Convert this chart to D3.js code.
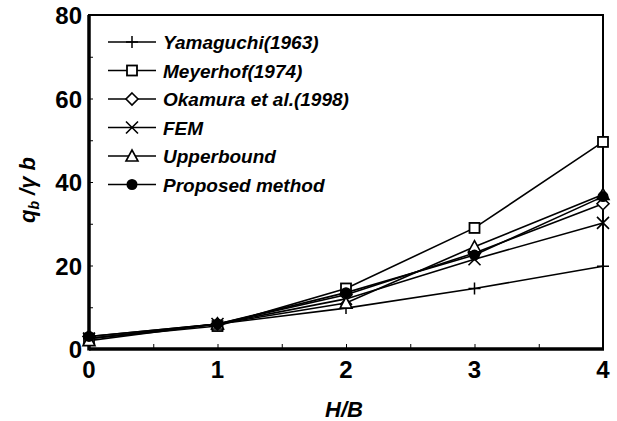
<!DOCTYPE html>
<html>
<head>
<meta charset="utf-8">
<script src="https://cdn.jsdelivr.net/npm/d3@7"></script>
<style>
  body { margin: 0; background: #fff; }
  text { font-family: "Liberation Sans", Arial, sans-serif; fill: #000; }
</style>
</head>
<body>
<svg id="chart" width="617" height="421"></svg>
<script>
// H/B values along the x axis
var hb = [0, 1, 2, 3, 4];

// q_b / gamma b for each method
var yamaguchi = [2.5, 6, 9.8, 14.5, 19.8];
var meyerhof  = [2.5, 5.5, 14.5, 29, 49.6];
var okamura   = [3, 6, 13, 23, 34.8];
var fem       = [2.5, 6, 12, 21.5, 30.2];
var upper     = [2, 6, 11, 24.5, 37];
var proposed  = [3, 6, 13.5, 22.5, 36.5];

var seriesNames = ["Yamaguchi(1963)", "Meyerhof(1974)", "Okamura et al.(1998)", "FEM", "Upperbound", "Proposed method"];
var seriesMarks = ["plus", "square", "diamond", "cross", "triangle", "circle"];
var xTicks = [0, 1, 2, 3, 4];
var yTicks = [0, 20, 40, 60, 80];

var series = [yamaguchi, meyerhof, okamura, fem, upper, proposed].map(function (vals, i) {
	return { name: seriesNames[i], mark: seriesMarks[i], vals: vals };
});

var svg = d3.select("#chart");
var pLeft = 89, pRight = 603, pTop = 15, pBottom = 349;

var x = d3.scaleLinear().domain([0, 4]).range([pLeft, pRight]);
var y = d3.scaleLinear().domain([0, 80]).range([pBottom, pTop]);

// markers drawn as paths centred on 0,0
var drawMark = function (g, type) {
	if (type === "plus") {
		g.append("path").attr("d", "M-6,0H6M0,-6V6").attr("stroke", "#000").attr("stroke-width", 1.5);
	} else if (type === "square") {
		g.append("rect").attr("x", -5).attr("y", -5).attr("width", 10).attr("height", 10)
			.attr("fill", "#fff").attr("stroke", "#000").attr("stroke-width", 1.8);
	} else if (type === "diamond") {
		g.append("path").attr("d", "M0,-6L6,0L0,6L-6,0Z")
			.attr("fill", "#fff").attr("stroke", "#000").attr("stroke-width", 1.6);
	} else if (type === "cross") {
		g.append("path").attr("d", "M-6,-6L6,6M-6,6L6,-6").attr("stroke", "#000").attr("stroke-width", 1.6);
	} else if (type === "triangle") {
		g.append("path").attr("d", "M0,-6L6,5H-6Z")
			.attr("fill", "#fff").attr("stroke", "#000").attr("stroke-width", 1.6);
	} else if (type === "circle") {
		g.append("circle").attr("r", 5.5).attr("fill", "#000");
	}
};

// frame
svg.append("rect").attr("x", pLeft).attr("y", pTop).attr("width", pRight - pLeft).attr("height", pBottom - pTop)
	.attr("fill", "none").attr("stroke", "#000").attr("stroke-width", 2);
svg.append("line").attr("x1", pLeft).attr("x2", pLeft).attr("y1", pTop).attr("y2", pBottom + 1.5)
	.attr("stroke", "#000").attr("stroke-width", 3.5);
svg.append("line").attr("x1", pLeft).attr("x2", pRight + 1).attr("y1", pBottom).attr("y2", pBottom)
	.attr("stroke", "#000").attr("stroke-width", 3.5);

// inside ticks
svg.append("g").attr("transform", "translate(" + pLeft + ",0)")
	.call(d3.axisRight(y).tickValues(d3.range(10, 80, 10)).tickSize(4).tickFormat(""))
	.call(function (g) { g.select(".domain").remove(); });
svg.append("g").attr("transform", "translate(0," + pBottom + ")")
	.call(d3.axisTop(x).tickValues(d3.range(0.5, 4, 0.5)).tickSize(5).tickFormat(""))
	.call(function (g) { g.select(".domain").remove(); });

// tick labels
svg.append("g").selectAll("text").data(yTicks).enter().append("text")
	.attr("x", pLeft - 7).attr("y", function (d) { return y(d) + 9; })
	.attr("text-anchor", "end").attr("font-size", 24).attr("font-weight", "bold")
	.text(function (d) { return d; });
svg.append("g").selectAll("text").data(xTicks).enter().append("text")
	.attr("x", function (d) { return x(d); }).attr("y", 378)
	.attr("text-anchor", "middle").attr("font-size", 24).attr("font-weight", "bold")
	.text(function (d) { return d; });

// axis titles
svg.append("text").attr("x", 344).attr("y", 417).attr("text-anchor", "middle")
	.attr("font-size", 22).attr("font-weight", "bold").attr("font-style", "italic").text("H/B");
var yl = svg.append("text").attr("transform", "translate(35,190) rotate(-90)").attr("text-anchor", "middle")
	.attr("font-size", 22).attr("font-weight", "bold").attr("font-style", "italic");
yl.append("tspan").text("q");
yl.append("tspan").attr("font-size", 14).attr("dy", 4).text("b");
yl.append("tspan").attr("dy", -4).text(" /");
yl.append("tspan").text("γ b");

// lines and markers
var line = d3.line().x(function (d, i) { return x(hb[i]); }).y(function (d) { return y(d); });
series.forEach(function (s) {
	svg.append("path").datum(s.vals).attr("d", line)
		.attr("fill", "none").attr("stroke", "#000").attr("stroke-width", 1.6);
});
series.forEach(function (s) {
	s.vals.forEach(function (v, i) {
		var g = svg.append("g").attr("transform", "translate(" + x(hb[i]) + "," + y(v) + ")");
		drawMark(g, s.mark);
	});
});

// legend
var leg = svg.append("g");
series.forEach(function (s, i) {
	var cy = 42 + i * 28.5;
	leg.append("line").attr("x1", 108).attr("x2", 156).attr("y1", cy).attr("y2", cy)
		.attr("stroke", "#000").attr("stroke-width", 1.6);
	drawMark(leg.append("g").attr("transform", "translate(132," + cy + ")"), s.mark);
	leg.append("text").attr("x", 163).attr("y", cy + 7)
		.attr("font-size", 19).attr("font-weight", "bold").attr("font-style", "italic")
		.text(s.name);
});
</script>
</body>
</html>
